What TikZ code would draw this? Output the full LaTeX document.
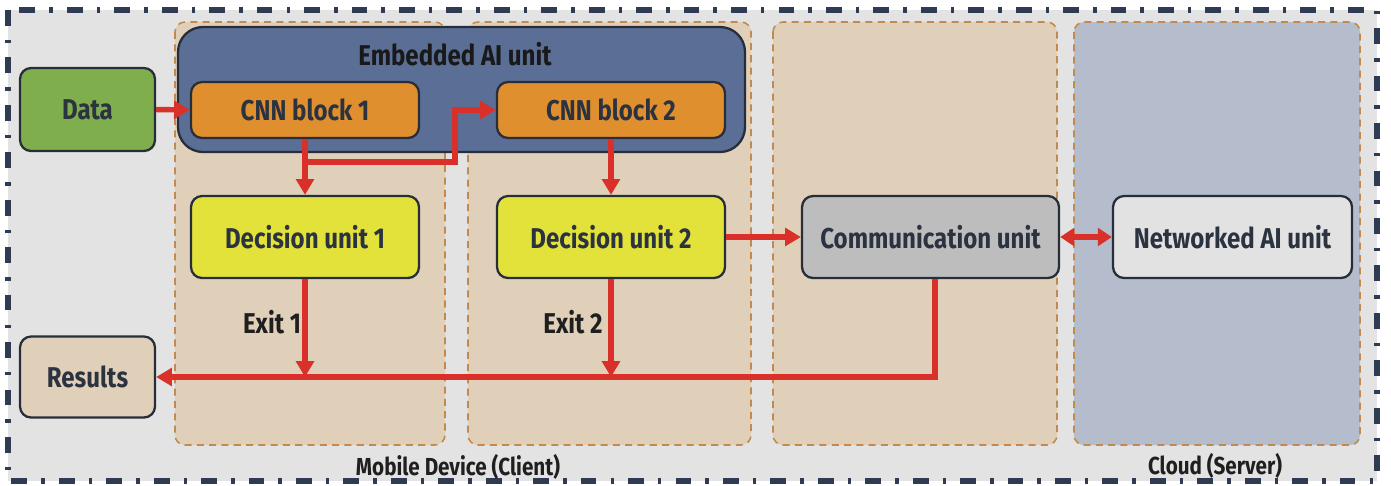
\documentclass[tikz,border=0pt]{standalone}
\usepackage{fontspec}
\setmainfont[FakeStretch=0.84]{Fira Sans}
\usetikzlibrary{arrows.meta}
\definecolor{bgc}{HTML}{E3E3E3}
\definecolor{frame}{HTML}{2E3B52}
\definecolor{colfill}{HTML}{E0D0BA}
\definecolor{coldash}{HTML}{C08A50}
\definecolor{cloudfill}{HTML}{B5BCCB}
\definecolor{embfill}{HTML}{5B6F96}
\definecolor{cnnfill}{HTML}{E08F2E}
\definecolor{datafill}{HTML}{7FAE4D}
\definecolor{decfill}{HTML}{E3E23A}
\definecolor{commfill}{HTML}{BDBDBD}
\definecolor{netfill}{HTML}{E2E2E2}
\definecolor{arr}{HTML}{D9302A}
\definecolor{txt}{HTML}{2B3340}
\tikzset{
  px/.style={x=0.02cm,y=-0.02cm},
  colbox/.style={draw=coldash,line width=0.9pt,dash pattern=on 4pt off 3pt,rounded corners=0.2cm},
  unitbox/.style={draw=txt!90!black,line width=1.3pt,rounded corners=0.22cm,text=txt,font=\bfseries\fontsize{16.3}{18}\selectfont,inner sep=0pt},
  conn/.style={draw=arr,line width=3.1pt,-{Triangle[length=9pt,width=10pt]}},
  lbl/.style={text=black!88,font=\bfseries\fontsize{16.3}{18}\selectfont,inner sep=0pt},
  zonelbl/.style={text=black!88,font=\bfseries\fontsize{14}{16}\selectfont,inner sep=0pt},
}
\begin{document}
\begin{tikzpicture}[px]
\useasboundingbox (0,0) rectangle (1391,485);
% background and outer frame
\fill[white] (0,0) rectangle (1391,485);
\fill[bgc] (8,10) rectangle (1377,481);
\draw[frame,line width=2.9pt,dash pattern=on 9pt off 8pt on 2pt off 8pt] (8,10) rectangle (1377,481);
% columns
\filldraw[colbox,fill=colfill] (175,22) rectangle (445,445);
\filldraw[colbox,fill=colfill] (468,22) rectangle (751,445);
\filldraw[colbox,fill=colfill] (773,22) rectangle (1057,445);
\filldraw[colbox,fill=cloudfill] (1074,22) rectangle (1360,445);
% embedded AI unit
\filldraw[draw=txt!90!black,line width=1.3pt,fill=embfill,rounded corners=0.5cm] (178,27) rectangle (745,152);
\node[lbl,text=black!90] (emb) at (455,54) {Embedded AI unit};
% units
\node[unitbox,fill=datafill,minimum width=2.7cm,minimum height=1.66cm] (data) at (87.5,109.5) {Data};
\node[unitbox,fill=cnnfill,minimum width=4.56cm,minimum height=1.12cm] (cnn1) at (305,110) {CNN block 1};
\node[unitbox,fill=cnnfill,minimum width=4.56cm,minimum height=1.12cm] (cnn2) at (611,110) {CNN block 2};
\node[unitbox,fill=decfill,minimum width=4.56cm,minimum height=1.64cm] (dec1) at (305,237) {Decision unit 1};
\node[unitbox,fill=decfill,minimum width=4.56cm,minimum height=1.64cm] (dec2) at (611,237) {Decision unit 2};
\node[unitbox,fill=commfill,minimum width=5.14cm,minimum height=1.64cm] (comm) at (930.5,237) {Communication unit};
\node[unitbox,fill=netfill,minimum width=4.78cm,minimum height=1.64cm] (net) at (1232.5,237) {Networked AI unit};
\node[unitbox,fill=colfill,minimum width=2.7cm,minimum height=1.62cm] (res) at (87.5,377) {Results};
% labels
\node[lbl] (exit1) at (272,322) {Exit 1};
\node[lbl] (exit2) at (573,322) {Exit 2};
\node[zonelbl] (mobile) at (458,467) {Mobile Device (Client)};
\node[zonelbl] (cloud) at (1215,466) {Cloud (Server)};
% coordinates
\coordinate (j1) at (305,377);
\coordinate (j2) at (611,377);
\coordinate (b1) at (305,162);
% connectors
\draw[conn] (data.east) -- (cnn1.west);
\draw[conn] (cnn1.south) -- (dec1.north);
\draw[conn] (b1) -- (455,162) -- (455,110) -- (cnn2.west);
\draw[conn] (cnn2.south) -- (dec2.north);
\draw[conn] (dec2.east) -- (comm.west);
\draw[draw=arr,line width=3.1pt,{Triangle[length=8pt,width=10pt]}-{Triangle[length=8pt,width=10pt]}] (comm.east) -- (net.west);
\draw[conn] (dec1.south) -- (j1);
\draw[conn] (dec2.south) -- (j2);
\draw[conn] (comm.south -| 935,0) -- (935,377) -- (res.east);
\end{tikzpicture}
\end{document}
